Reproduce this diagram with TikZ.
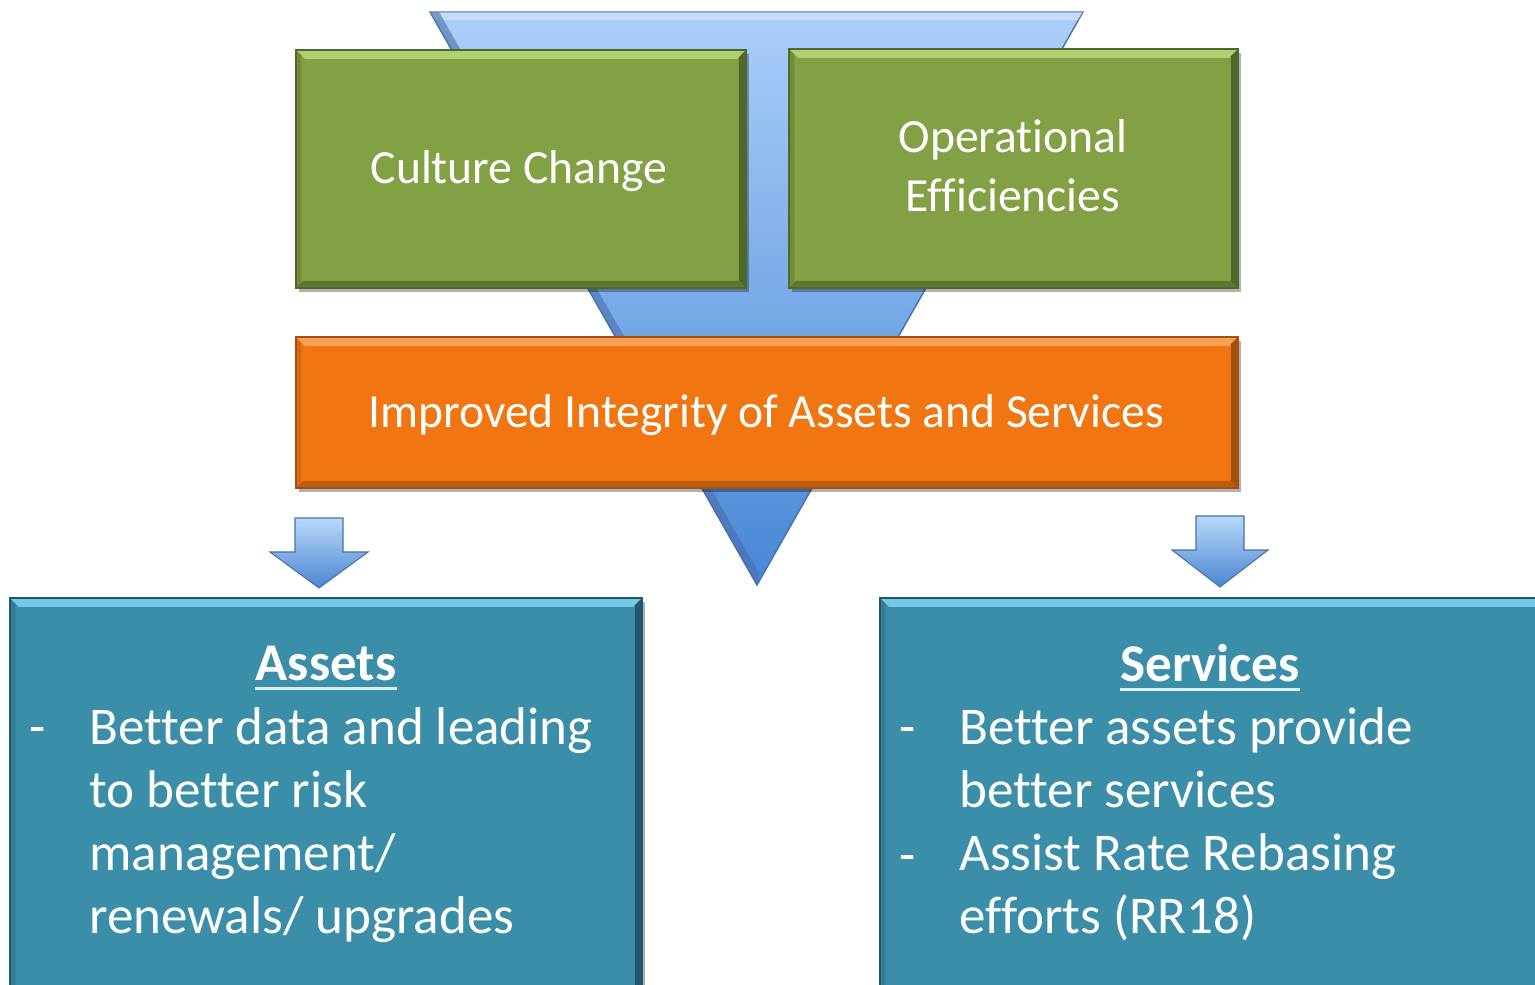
\documentclass[tikz,border=0pt]{standalone}
\usepackage{fontspec}
\setmainfont{Carlito}[Ligatures={NoCommon}]
\usetikzlibrary{shadows,fit}
\definecolor{grn}{HTML}{83A044}
\definecolor{grnhi}{HTML}{AFCF72}
\definecolor{grnln}{HTML}{4E682A}
\definecolor{org}{HTML}{F17611}
\definecolor{orghi}{HTML}{F8A055}
\definecolor{orgln}{HTML}{A4500E}
\definecolor{tl}{HTML}{3A8EA8}
\definecolor{tlhi}{HTML}{74CAE6}
\definecolor{tlln}{HTML}{22586C}
\definecolor{funtop}{HTML}{AACFF9}
\definecolor{funbot}{HTML}{4886D6}
\definecolor{funln}{HTML}{4A70AA}
\definecolor{arrtop}{HTML}{B8D8FA}
\definecolor{arrbot}{HTML}{4A86D0}
\definecolor{ulc}{HTML}{DDEEF5}
\newcommand\midfnt{\fontsize{27.1pt}{33.6pt}\selectfont}
\newcommand\bigfnt{\fontsize{30.2pt}{36pt}\selectfont}
\tikzset{
  bevel/.style 2 args={path picture={
    \fill[#1] (path picture bounding box.north west) -- (path picture bounding box.north east)
      -- ([shift={(-5pt,-5pt)}]path picture bounding box.north east) -- ([shift={(5pt,-5pt)}]path picture bounding box.north west) -- cycle;
    \fill[#2] (path picture bounding box.north east) -- (path picture bounding box.south east)
      -- ([shift={(-4pt,4pt)}]path picture bounding box.south east) -- ([shift={(-4pt,-4pt)}]path picture bounding box.north east) -- cycle;
    \fill[#2,opacity=.7] (path picture bounding box.south east) -- (path picture bounding box.south west)
      -- ([shift={(4pt,4pt)}]path picture bounding box.south west) -- ([shift={(-4pt,4pt)}]path picture bounding box.south east) -- cycle;
    \fill[#2,opacity=.35] (path picture bounding box.south west) -- (path picture bounding box.north west)
      -- ([shift={(3pt,-3pt)}]path picture bounding box.north west) -- ([shift={(3pt,3pt)}]path picture bounding box.south west) -- cycle;
  }},
  shad/.style={drop shadow={shadow xshift=1.5pt, shadow yshift=-2pt, opacity=.3, fill=black}},
  greenbox/.style={shad, draw=grnln, line width=0.8pt, fill=grn, inner sep=0pt, bevel={grnhi}{grnln}},
  orangebox/.style={shad, draw=orgln, line width=0.8pt, fill=org, inner sep=0pt, bevel={orghi}{orgln}},
  tealbox/.style={shad, draw=tlln, line width=0.8pt, fill=tl, inner sep=0pt, bevel={tlhi}{tlln}},
  midtxt/.style={text=white, inner sep=0pt, font=\midfnt},
  bigtxt/.style={text=white, inner sep=0pt, font=\bigfnt},
  funnel/.style={top color=funtop, bottom color=funbot, draw=funln, line width=0.8pt},
  blockarrow/.style={top color=arrtop, bottom color=arrbot, draw=funln, line width=0.6pt},
  uline/.style={ulc, line width=1.7pt}
}
\begin{document}
\begin{tikzpicture}[x=0.02cm, y=-0.02cm]
\useasboundingbox (0,0) rectangle (1535,984);
% funnel
\path[funnel] (430,12) -- (1083,12) -- (757,585) -- cycle;
\fill[white, opacity=.3] (430,12) -- (1083,12) -- (1078.3,20) -- (434.6,20) -- cycle;
\fill[funln, opacity=.6] (430,12) -- (439,12) -- (759,573) -- (757,585) -- cycle;
% green boxes
\node[greenbox, fit={(296,50) (746,288)}] (cc) {};
\node[greenbox, fit={(789,49) (1238,288)}] (oe) {};
\node[midtxt, anchor=base] (cct) at (519,183) {Culture Change};
\node[midtxt, align=center] (oet) at (1013,166) {Operational\\Efficiencies};
% orange box
\node[orangebox, fit={(296,337) (1238,488)}] (ia) {};
\node[midtxt, anchor=base] (iat) at (766,427) {Improved Integrity of Assets and Services};
% block arrows
\path[blockarrow] (295,518) -- (343,518) -- (343,552) -- (368,552) -- (319,588) -- (270,552) -- (295,552) -- cycle;
\path[blockarrow] (1196,516) -- (1244,516) -- (1244,550) -- (1268,550) -- (1220,587) -- (1172,550) -- (1196,550) -- cycle;
% teal boxes
\node[tealbox, fit={(10,598) (642,1000)}] (as) {};
\node[tealbox, fit={(880,598) (1545,1000)}] (sv) {};
\node[bigtxt, font=\bigfnt\bfseries, anchor=base] (ast) at (326,680) {Assets};
\draw[uline] ([yshift=-5pt]ast.base west) -- ([yshift=-5pt]ast.base east);
\node[bigtxt, font=\bigfnt\bfseries, anchor=base] (svt) at (1210,681) {Services};
\draw[uline] ([yshift=-5pt]svt.base west) -- ([yshift=-5pt]svt.base east);
\node[bigtxt, anchor=base] (asd1) at (38,744) {-};
\node[bigtxt, anchor=north west, align=left] (asl) at (89,701.7) {\rule{0pt}{24pt}Better data and leading\\to better risk\\management/\\renewals/ upgrades};
\node[bigtxt, anchor=base] (svd1) at (908,744) {-};
\node[bigtxt, anchor=base] (svd2) at (908,872) {-};
\node[bigtxt, anchor=north west, align=left] (svl) at (959,701.7) {\rule{0pt}{24pt}Better assets provide\\better services\\Assist Rate Rebasing\\efforts (RR18)};
\end{tikzpicture}
\end{document}
